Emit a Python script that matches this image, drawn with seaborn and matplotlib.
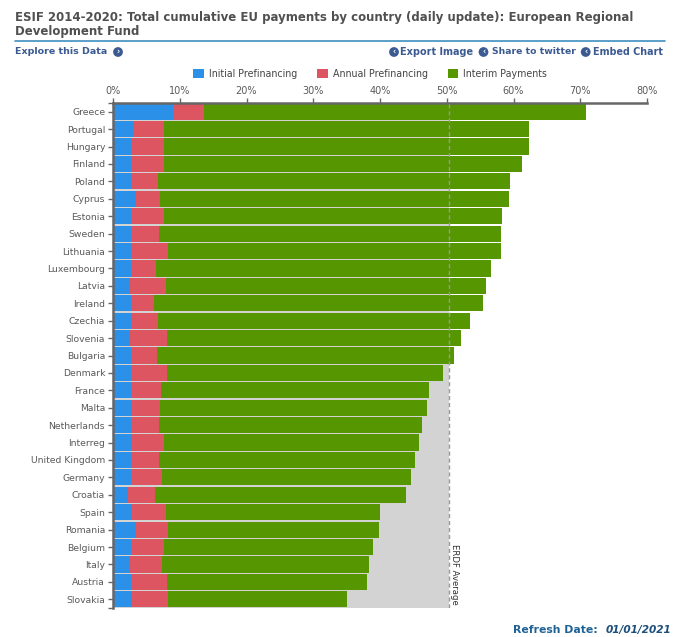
import matplotlib
matplotlib.use("Agg")
import matplotlib.pyplot as plt
import pandas as pd
import seaborn as sns
from matplotlib.lines import Line2D

countries = ["Greece", "Portugal", "Hungary", "Finland", "Poland", "Cyprus", "Estonia", "Sweden",
             "Lithuania", "Luxembourg", "Latvia", "Ireland", "Czechia", "Slovenia", "Bulgaria",
             "Denmark", "France", "Malta", "Netherlands", "Interreg", "United Kingdom", "Germany",
             "Croatia", "Spain", "Romania", "Belgium", "Italy", "Austria", "Slovakia"]

# values in %
initial = [9.2, 3.0, 2.7, 2.7, 2.7, 3.5, 2.7, 2.7, 2.7, 2.7, 2.5, 2.7, 2.7, 2.5, 2.7,
           2.7, 2.7, 2.9, 2.7, 2.9, 2.7, 2.7, 2.3, 2.9, 3.5, 2.7, 2.5, 2.7, 2.9]
annual = [4.5, 4.7, 5.0, 4.9, 4.0, 3.6, 4.9, 4.2, 5.6, 3.8, 5.4, 3.4, 4.0, 5.6, 3.9,
          5.4, 4.5, 4.2, 4.2, 4.7, 4.2, 4.6, 4.0, 5.0, 4.7, 4.9, 4.8, 5.4, 5.4]
interim = [57.2, 54.6, 54.6, 53.7, 52.8, 52.2, 50.7, 51.2, 49.8, 50.1, 48.0, 49.3, 46.8, 44.0, 44.5,
           41.4, 40.1, 40.0, 39.4, 38.3, 38.4, 37.3, 37.6, 32.1, 31.7, 31.3, 31.1, 30.0, 26.8]
erdf_average = 50.4

df = pd.DataFrame({"country": countries, "initial": initial, "annual": annual, "interim": interim})
df["initial_end"] = df["initial"]
df["annual_end"] = df["initial"] + df["annual"]
df["interim_end"] = df["annual_end"] + df["interim"]

sns.set_style("ticks")
plt.rcParams["font.family"] = ["DejaVu Sans"]

BLUE = "#2b90e8"
RED = "#dd5560"
GREEN = "#559601"
GREY = "#d3d3d3"
LINK = "#3b5a92"
TEXT = "#5a5a5a"

W, H = 680, 637
fig = plt.figure(figsize=(W / 100, H / 100), dpi=100)
ax = fig.add_axes([113 / W, 1 - 608 / H, (647 - 113) / W, (608 - 103) / H])

ax.axvspan(0, erdf_average, color=GREY, lw=0, zorder=0)

# stacked by drawing the longest bar first
for col, color, label in [("interim_end", GREEN, "Interim Payments"),
                          ("annual_end", RED, "Annual Prefinancing"),
                          ("initial_end", BLUE, "Initial Prefinancing")]:
    sns.barplot(data=df, x=col, y="country", color=color, saturation=1, width=0.93,
                linewidth=0, ax=ax, zorder=2, label=label)

handles, labels = ax.get_legend_handles_labels()
ax.get_legend().remove()

ax.axvline(erdf_average, color="#9a9a9a", lw=1, ls=(0, (3, 2)), zorder=3)
ax.text(erdf_average + 0.08, 26.55, "ERDF Average", rotation=270, fontsize=6.1, color="#333333",
        ha="left", va="center", zorder=4)

ax.set_xlim(0, 80)
ax.set_ylim(len(countries) - 0.5, -0.5)
ax.set_xlabel("")
ax.set_ylabel("")
ax.xaxis.tick_top()
ax.set_xticks(range(0, 81, 10))
ax.set_xticklabels([f"{v}%" for v in range(0, 81, 10)])
ax.set_yticks([-0.5, len(countries) - 0.5], minor=True)
ax.tick_params(axis="x", labelsize=7, colors=TEXT, length=3.6, width=1, pad=1.5, color="#666666")
ax.tick_params(axis="y", labelsize=6.7, colors=TEXT, length=3.6, width=1, pad=2, color="#666666")
ax.tick_params(axis="y", which="minor", length=3.6, width=1, color="#666666")
for side in ["right", "bottom"]:
    ax.spines[side].set_visible(False)
for side in ["top", "left"]:
    ax.spines[side].set_linewidth(1.8)
    ax.spines[side].set_color("#666666")

order = [2, 1, 0]
fig.legend([handles[i] for i in order], [labels[i] for i in order], loc="center",
           bbox_to_anchor=(370 / W, 1 - 74 / H), ncol=3, frameon=False, fontsize=6.85,
           handlelength=1.15, handleheight=1.15, handletextpad=0.5, columnspacing=2.1,
           labelcolor="#444444")

# header
fig.text(15 / W, 1 - 17 / H, "ESIF 2014-2020: Total cumulative EU payments by country (daily update): European Regional",
         fontsize=8.45, fontweight="bold", color="#505050", va="center")
fig.text(15 / W, 1 - 32 / H, "Development Fund", fontsize=8.45, fontweight="bold", color="#505050", va="center")
fig.add_artist(Line2D([15 / W, 665 / W], [1 - 40.5 / H, 1 - 40.5 / H], color="#3f8fbf", lw=1.2))


def link_icon(px, glyph):
    fig.text(px / W, 1 - 52 / H, glyph, fontsize=5.5, fontweight="bold", color="white", ha="center", va="center",
             bbox=dict(boxstyle="circle,pad=0.05", fc=LINK, ec="none"))


fig.text(15 / W, 1 - 52 / H, "Explore this Data", fontsize=6.8, fontweight="bold", color=LINK, va="center")
link_icon(118, "›")
for icon_x, text_x, label, size in [(394, 400.5, "Export Image", 7), (483.5, 492, "Share to twitter", 6.7),
                                    (585.7, 593, "Embed Chart", 6.9)]:
    link_icon(icon_x, "‹")
    fig.text(text_x / W, 1 - 52 / H, label, fontsize=size, fontweight="bold", color=LINK, va="center")

fig.text(513 / W, 1 - 630 / H, "Refresh Date:", fontsize=7.8, fontweight="bold", color="#1f6296", va="center")
fig.text(671 / W, 1 - 630 / H, "01/01/2021", fontsize=7.6, fontweight="bold", fontstyle="italic",
         color="#1d4f7c", va="center", ha="right")

fig.savefig("out.png", dpi=100)
